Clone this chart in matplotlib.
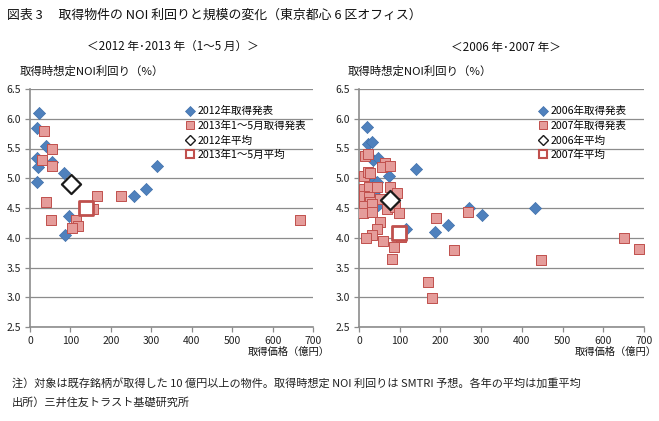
import matplotlib
matplotlib.use("Agg")
import matplotlib.pyplot as plt
from matplotlib.lines import Line2D

plt.rcParams['font.family'] = ['Noto Sans CJK JP', 'DejaVu Sans']

# ---- Data: left panel (2012 / 2013 Jan-May) ----
x2012 = [23, 17, 40, 17, 20, 55, 18, 84, 314, 288, 257, 97, 86]
y2012 = [6.10, 5.85, 5.55, 5.34, 5.19, 5.27, 4.94, 5.08, 5.20, 4.82, 4.70, 4.36, 4.04]
x2013 = [35, 29, 54, 55, 40, 165, 225, 51, 115, 119, 103, 156, 669]
y2013 = [5.79, 5.30, 5.49, 5.20, 4.60, 4.70, 4.70, 4.30, 4.29, 4.20, 4.16, 4.48, 4.30]
avg2012 = (101, 4.91)
avg2013 = (138, 4.50)

# ---- Data: right panel (2006 / 2007) ----
x2006 = [20, 23, 32, 34, 47, 139, 74, 25, 38, 45, 40, 39, 47, 270, 433, 302, 115, 186, 219]
y2006 = [5.86, 5.58, 5.61, 5.30, 5.34, 5.15, 5.04, 5.07, 4.95, 4.93, 4.72, 4.78, 4.55, 4.50, 4.50, 4.39, 4.14, 4.09, 4.21]
x2007 = [14, 23, 65, 57, 76, 12, 22, 27, 12, 25, 43, 77, 12, 25, 51, 94, 28,
         12, 10, 32, 32, 70, 88, 98, 51, 43, 32, 18, 59, 104, 86, 80,
         190, 268, 233, 170, 179, 447, 651, 688]
y2007 = [5.37, 5.41, 5.26, 5.19, 5.21, 5.04, 5.10, 5.08, 4.82, 4.85, 4.85, 4.85, 4.71, 4.68, 4.65, 4.75, 4.60,
         4.54, 4.41, 4.56, 4.43, 4.48, 4.51, 4.41, 4.26, 4.15, 4.04, 3.99, 3.95, 4.02, 3.84, 3.64,
         4.33, 4.44, 3.79, 3.26, 2.98, 3.62, 4.00, 3.81]
avg2006 = (75, 4.63)
avg2007 = (98, 4.08)

labels_left = ['2012年取得発表', '2013年1～5月取得発表', '2012年平均', '2013年1～5月平均']
labels_right = ['2006年取得発表', '2007年取得発表', '2006年平均', '2007年平均']

BLUE = '#4F81BD'
BLUE_EDGE = '#3F6FAA'
PINK = '#E59C9A'
PINK_EDGE = '#C0504D'
GRID = '#8C8C8C'

fig = plt.figure(figsize=(6.59, 4.21), dpi=100)
fig.patch.set_facecolor('white')

W, H = 659.0, 421.0
def ax_rect(x0, x1, ytop, ybot):
    return [x0 / W, 1 - ybot / H, (x1 - x0) / W, (ybot - ytop) / H]

axL = fig.add_axes(ax_rect(30, 313, 89, 327))
axR = fig.add_axes(ax_rect(359, 644, 89, 327))

def style(ax):
    ax.set_xlim(0, 700)
    ax.set_ylim(2.5, 6.5)
    ax.set_xticks(range(0, 701, 100))
    ax.set_yticks([2.5, 3.0, 3.5, 4.0, 4.5, 5.0, 5.5, 6.0, 6.5])
    ax.set_yticklabels(['2.5', '3.0', '3.5', '4.0', '4.5', '5.0', '5.5', '6.0', '6.5'])
    ax.yaxis.grid(True, color=GRID, linewidth=0.9)
    ax.set_axisbelow(True)
    for s in ['top', 'right']:
        ax.spines[s].set_visible(False)
    for s in ['left', 'bottom']:
        ax.spines[s].set_color('#8C8C8C')
        ax.spines[s].set_linewidth(1.2)
    ax.tick_params(axis='both', labelsize=7.5, colors='#8C8C8C', labelcolor='#222222',
                   length=3.5, direction='out', width=0.9)
    ax.tick_params(axis='x', pad=3)
    ax.tick_params(axis='y', pad=3)

def draw(ax, xa, ya, xb, yb, avga, avgb, labels):
    ax.scatter(xa, ya, marker='D', s=38, c=BLUE, edgecolors=BLUE_EDGE, linewidths=0.5,
               zorder=3, label=labels[0])
    ax.scatter(xb, yb, marker='s', s=44, c=PINK, edgecolors=PINK_EDGE, linewidths=0.7,
               zorder=3, label=labels[1])
    ax.scatter([avga[0]], [avga[1]], marker='D', s=95, facecolors='white',
               edgecolors='#1a1a1a', linewidths=1.6, zorder=4, label=labels[2])
    ax.scatter([avgb[0]], [avgb[1]], marker='s', s=105, facecolors='white',
               edgecolors=PINK_EDGE, linewidths=2.0, zorder=4, label=labels[3])

style(axL)
style(axR)
draw(axL, x2012, y2012, x2013, y2013, avg2012, avg2013, labels_left)
draw(axR, x2006, y2006, x2007, y2007, avg2006, avg2007, labels_right)

def legend_handles():
    return [
        Line2D([], [], marker='D', ls='none', markersize=5, markerfacecolor=BLUE, markeredgecolor=BLUE_EDGE, markeredgewidth=0.5),
        Line2D([], [], marker='s', ls='none', markersize=6, markerfacecolor=PINK, markeredgecolor=PINK_EDGE, markeredgewidth=0.7),
        Line2D([], [], marker='D', ls='none', markersize=5, markerfacecolor='white', markeredgecolor='#1a1a1a', markeredgewidth=1.0),
        Line2D([], [], marker='s', ls='none', markersize=6, markerfacecolor='white', markeredgecolor=PINK_EDGE, markeredgewidth=1.5),
    ]

axL.legend(legend_handles(), labels_left, loc='upper left', bbox_to_anchor=(156 / 283, 1 - 17 / 238),
           frameon=False, fontsize=7.6, handlelength=0.8, handletextpad=0.3, labelspacing=0.42,
           borderaxespad=0, borderpad=0)
axR.legend(legend_handles(), labels_right, loc='upper left', bbox_to_anchor=(180 / 285, 1 - 17 / 238),
           frameon=False, fontsize=7.6, handlelength=0.8, handletextpad=0.3, labelspacing=0.42,
           borderaxespad=0, borderpad=0)

# ---- Texts ----
fig.text(7 / W, 1 - 15 / H, '図表 3 　取得物件の NOI 利回りと規模の変化（東京都心 6 区オフィス）',
         fontsize=9.3, ha='left', va='center', color='#111111')
fig.text(173 / W, 1 - 47 / H, '＜2012 年･2013 年（1～5 月）＞', fontsize=8.4, ha='center', va='center', color='#111111')
fig.text(506 / W, 1 - 47 / H, '＜2006 年･2007 年＞', fontsize=8.4, ha='center', va='center', color='#111111')
fig.text(20 / W, 1 - 71 / H, '取得時想定NOI利回り（%）', fontsize=8.2, ha='left', va='center', color='#111111')
fig.text(348 / W, 1 - 71 / H, '取得時想定NOI利回り（%）', fontsize=8.2, ha='left', va='center', color='#111111')
fig.text(330 / W, 1 - 352 / H, '取得価格（億円）', fontsize=7.4, ha='right', va='center', color='#111111')
fig.text(657 / W, 1 - 352 / H, '取得価格（億円）', fontsize=7.4, ha='right', va='center', color='#111111')
fig.text(12 / W, 1 - 383 / H,
         '注）対象は既存銘柄が取得した 10 億円以上の物件。取得時想定 NOI 利回りは SMTRI 予想。各年の平均は加重平均',
         fontsize=8.0, ha='left', va='center', color='#222222')
fig.text(12 / W, 1 - 402 / H, '出所）三井住友トラスト基礎研究所', fontsize=8.0, ha='left', va='center', color='#222222')

fig.savefig('out.png', dpi=100, facecolor='white')
